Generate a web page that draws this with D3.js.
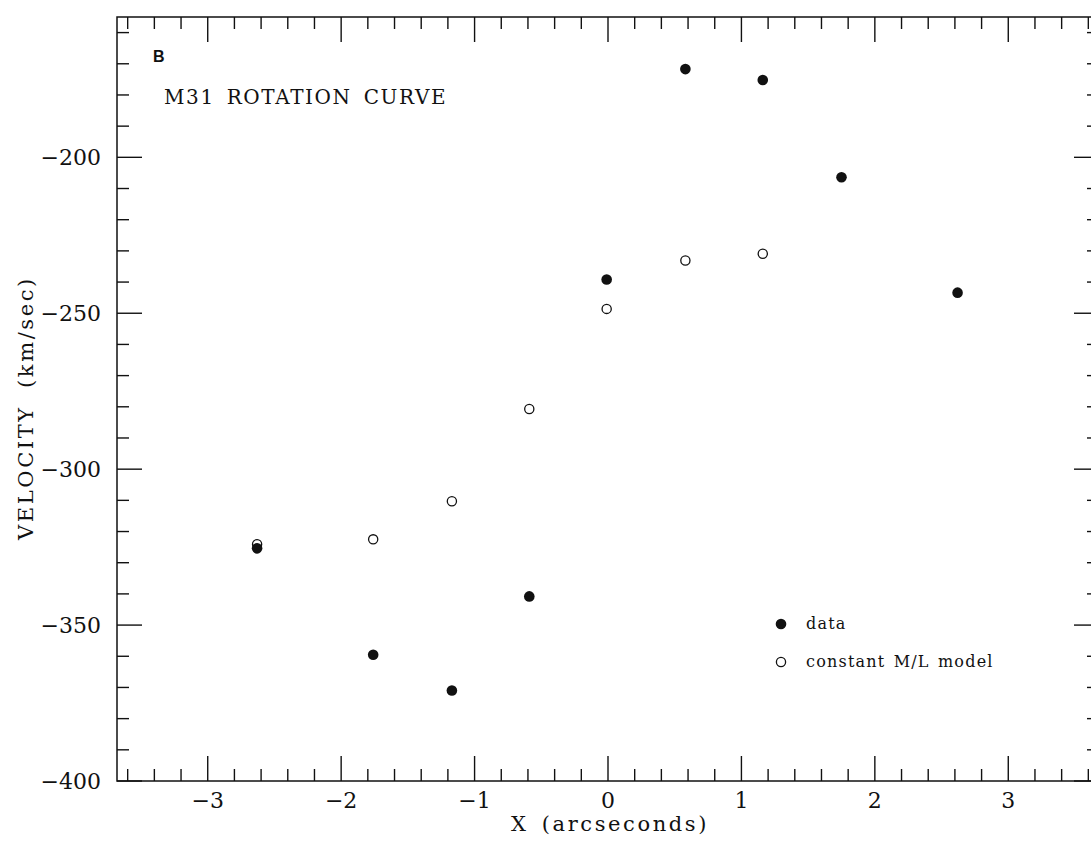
<!DOCTYPE html>
<html><head><meta charset="utf-8">
<script src="https://cdn.jsdelivr.net/npm/d3@7"></script>
<style>body{margin:0;background:#fff}svg{display:block}</style>
</head><body>
<script>
// Data
const dataX = [-2.63, -1.76, -1.17, -0.59, -0.01, 0.58, 1.16, 1.75, 2.62];
const dataV = [-325.4, -359.5, -371, -340.8, -239.2, -171.7, -175.2, -206.4, -243.4];
const modelX = [-2.63, -1.76, -1.17, -0.59, -0.01, 0.58, 1.16];
const modelV = [-324.1, -322.5, -310.3, -280.7, -248.6, -233.1, -230.9];
const xMajorTicks = [-3, -2, -1, 0, 1, 2, 3];
const yMajorTicks = [-400, -350, -300, -250, -200];
const legendLabels = ["data", "constant M/L model"];

const W = 1091, H = 841;
const svg = d3.select("body").append("svg").attr("width", W).attr("height", H);
const L = 117, R = 1099, T = 17, B = 781;
const x = d3.scaleLinear().domain([-3.68, 3.68]).range([L, R]);
const y = d3.scaleLinear().domain([-400, -155]).range([B, T]);

const serif = "'DejaVu Serif', serif";
const g = svg.append("g");
const ink = "#111";

// frame
g.append("rect").attr("x", L).attr("y", T).attr("width", R - L).attr("height", B - T)
  .attr("fill", "none").attr("stroke", ink).attr("stroke-width", 1.5);

const xMinor = d3.range(-3.6, 3.61, 0.2).map(v => Math.round(v * 10) / 10);
const yMinor = d3.range(-400, -155, 10);
const isMajX = v => Math.abs(v - Math.round(v)) < 1e-6;
const isMajY = v => v % 50 === 0;

xMinor.forEach(v => {
  const len = isMajX(v) ? 25 : 12;
  g.append("line").attr("x1", x(v)).attr("x2", x(v)).attr("y1", B).attr("y2", B - len)
    .attr("stroke", ink).attr("stroke-width", 1.4);
  g.append("line").attr("x1", x(v)).attr("x2", x(v)).attr("y1", T).attr("y2", T + len)
    .attr("stroke", ink).attr("stroke-width", 1.4);
});
yMinor.forEach(v => {
  const len = isMajY(v) ? 25 : 12;
  g.append("line").attr("y1", y(v)).attr("y2", y(v)).attr("x1", L).attr("x2", L + len)
    .attr("stroke", ink).attr("stroke-width", 1.4);
  g.append("line").attr("y1", y(v)).attr("y2", y(v)).attr("x1", R).attr("x2", R - len)
    .attr("stroke", ink).attr("stroke-width", 1.4);
});

const fmt = v => (v < 0 ? "\u2212" : "") + Math.abs(v);
xMajorTicks.forEach(v => {
  g.append("text").attr("x", x(v)).attr("y", 808).attr("text-anchor", "middle")
    .attr("font-family", serif).attr("font-size", 22).attr("fill", ink).text(fmt(v));
});
yMajorTicks.forEach(v => {
  g.append("text").attr("x", 101).attr("y", y(v) + 8).attr("text-anchor", "end")
    .attr("font-family", serif).attr("font-size", 22).attr("fill", ink).text(fmt(v));
});

g.append("text").attr("x", 610).attr("y", 831).attr("text-anchor", "middle")
  .attr("font-family", serif).attr("font-size", 21).attr("letter-spacing", 2.6)
  .attr("word-spacing", 4).attr("fill", ink).text("X (arcseconds)");
g.append("text").attr("transform", "translate(33,408) rotate(-90)").attr("text-anchor", "middle")
  .attr("font-family", serif).attr("font-size", 21).attr("letter-spacing", 2.6)
  .attr("word-spacing", 8).attr("fill", ink).text("VELOCITY (km/sec)");

g.append("text").attr("x", 153).attr("y", 62).attr("font-family", "'Liberation Sans', Arial, sans-serif")
  .attr("font-weight", "bold").attr("font-size", 16).attr("fill", ink).text("B");
g.append("text").attr("x", 164).attr("y", 104).attr("font-family", serif)
  .attr("font-size", 20).attr("letter-spacing", 1.6).attr("word-spacing", 4)
  .attr("fill", ink).text("M31 ROTATION CURVE");

// points
g.selectAll("circle.m").data(modelX).join("circle").attr("class", "m")
  .attr("cx", d => x(d)).attr("cy", (d, i) => y(modelV[i])).attr("r", 4.6)
  .attr("fill", "#fff").attr("stroke", ink).attr("stroke-width", 1.3);
g.selectAll("circle.d").data(dataX).join("circle").attr("class", "d")
  .attr("cx", d => x(d)).attr("cy", (d, i) => y(dataV[i])).attr("r", 5.3)
  .attr("fill", ink);

// legend
const lg = g.append("g");
lg.append("circle").attr("cx", 781).attr("cy", 624).attr("r", 5.3).attr("fill", ink);
lg.append("circle").attr("cx", 781).attr("cy", 662).attr("r", 4.6).attr("fill", "#fff")
  .attr("stroke", ink).attr("stroke-width", 1.3);
lg.append("text").attr("x", 806).attr("y", 629).attr("font-family", serif).attr("font-size", 16)
  .attr("letter-spacing", 1.2).attr("fill", ink).text(legendLabels[0]);
lg.append("text").attr("x", 806).attr("y", 667).attr("font-family", serif).attr("font-size", 16)
  .attr("letter-spacing", 1.2).attr("word-spacing", 2).attr("fill", ink).text(legendLabels[1]);
</script>
</body></html>
